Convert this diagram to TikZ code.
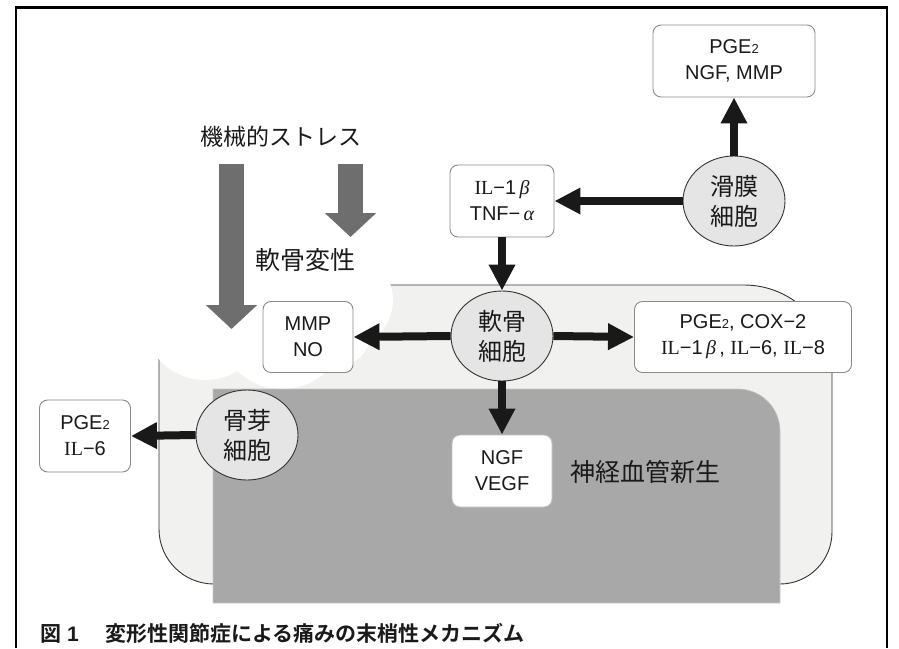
\documentclass[tikz,border=0pt]{standalone}
\usepackage{fontspec}
\setmainfont{Liberation Sans}
\newfontfamily\jp[BoldFont={Noto Sans CJK JP Bold}]{Noto Sans CJK JP}
\newfontfamily\serifIL{Liberation Serif}
\usetikzlibrary{shapes.geometric,arrows.meta}
\definecolor{lightfill}{HTML}{F1F1F0}
\definecolor{darkfill}{HTML}{A8A8A8}
\definecolor{cellfill}{HTML}{E5E5E5}
\definecolor{boxline}{HTML}{8A8A8A}
\definecolor{grayarrow}{HTML}{6E6E6E}
\definecolor{textcol}{HTML}{1A1A1A}
\newcommand{\sIL}{{\serifIL IL}}
\newcommand{\sub}[1]{{\fontsize{13}{13}\selectfont #1}}
\newcommand{\gbeta}{{\serifIL\itshape β}}
\newcommand{\galpha}{{\serifIL\itshape α}}
\tikzset{
  infobox/.style={draw=boxline, line width=0.9pt, rounded corners=8pt, fill=white,
    align=center, inner sep=0pt, text=textcol, font=\fontsize{20}{26}\selectfont},
  cell/.style={ellipse, draw=black!80, line width=0.9pt, fill=cellfill, inner sep=0pt,
    minimum width=102pt, minimum height=90pt, align=center, text=textcol,
    font=\jp\fontsize{24}{30}\selectfont},
  blackarrow/.style={line width=8pt, draw=black!90, -{Triangle[width=25pt,length=26pt]}},
  grayarr/.style={line width=25pt, draw=grayarrow, -{Triangle[width=50pt,length=24pt]}},
  jplabel/.style={inner sep=0pt, text=textcol},
  cloudpart/.style={fill=white, draw=none}
}
\begin{document}
\begin{tikzpicture}[x=1pt,y=1pt]
\useasboundingbox (0,0) rectangle (899,-648);
\fill[white] (0,0) rectangle (899,-648);
% frame
\draw[line width=2.5pt] (16,-648) -- (16,-7.5) -- (887,-7.5) -- (887,-648);
% cartilage region
\draw[fill=lightfill, draw=black!80, line width=0.9pt]
  (159,-285) -- (744,-285) arc[start angle=90, end angle=0, radius=88]
  -- (832,-532) arc[start angle=0, end angle=-90, radius=52]
  -- (214,-584) arc[start angle=270, end angle=180, radius=55] -- cycle;
% cloud
\fill[cloudpart] (205,-318) circle[radius=62];
\fill[cloudpart] (282,-325) circle[radius=64];
\fill[cloudpart] (345,-300) circle[radius=48];
\fill[cloudpart] (340,-335) circle[radius=30];
\fill[cloudpart] (240,-270) circle[radius=60];
% bone region
\draw[fill=darkfill, draw=black!22, line width=0.6pt]
  (213,-389) -- (738,-389) arc[start angle=90, end angle=0, radius=42]
  -- (780,-603) -- (213,-603) -- cycle;
% gray arrows
\coordinate (g1s) at (231.5,-164);
\coordinate (g1e) at (231.5,-329);
\coordinate (g2s) at (350.5,-164);
\coordinate (g2e) at (350.5,-237);
\draw[grayarr] (g1s) -- (g1e);
\draw[grayarr] (g2s) -- (g2e);
% labels
\node[jplabel, font=\jp\fontsize{23}{23}\selectfont] (stress) at (281,-137) {機械的ストレス};
\node[jplabel, font=\jp\fontsize{25}{25}\selectfont] (degen) at (305,-260) {軟骨変性};
\node[jplabel, font=\jp\fontsize{25}{25}\selectfont] (angio) at (645,-472) {神経血管新生};
% boxes
\node[infobox, minimum width=162pt, minimum height=72pt] (synprod) at (734,-61) {PGE\sub{2}\\NGF, MMP};
\node[infobox, minimum width=104pt, minimum height=72pt] (ilbox) at (502,-201) {\sIL−1\,\gbeta\\TNF−\,\galpha};
\node[infobox, minimum width=90pt, minimum height=71pt] (mmpno) at (308,-337) {MMP\\NO};
\node[infobox, minimum width=217pt, minimum height=71pt] (pgecox) at (743,-337) {PGE\sub{2}, COX−2\\\sIL−1\,\gbeta\,, \sIL−6, \sIL−8};
\node[infobox, draw=black!25, minimum width=100pt, minimum height=72pt] (ngfvegf) at (502,-471) {NGF\\VEGF};
\node[infobox, minimum width=91pt, minimum height=72pt] (pgeil6) at (85,-436) {PGE\sub{2}\\\sIL−6};
% cells
\node[cell] (synov) at (734,-201) {滑膜\\細胞};
\node[cell] (chondro) at (502,-336) {軟骨\\細胞};
\node[cell] (osteo) at (247,-435) {骨芽\\細胞};
% arrows
\draw[blackarrow] (synov.west) -- (ilbox.east);
\draw[blackarrow] (synov.north) -- (synprod.south);
\draw[blackarrow] (ilbox.south) -- (chondro.north);
\draw[blackarrow] (chondro.west) -- (mmpno.east);
\draw[blackarrow] (chondro.east) -- (pgecox.west);
\draw[blackarrow] (chondro.south) -- (ngfvegf.north);
\draw[blackarrow] (osteo.west) -- (pgeil6.east);
% caption
\node[jplabel, anchor=base west, font=\jp\bfseries\fontsize{21}{21}\selectfont] (capfig) at (40,-641) {図};
\node[jplabel, anchor=base west, font=\bfseries\fontsize{21}{21}\selectfont] (capnum) at (67,-641) {1};
\node[jplabel, anchor=base west, font=\jp\bfseries\fontsize{21}{21}\selectfont] (captxt) at (105,-641) {変形性関節症による痛みの末梢性メカニズム};
\end{tikzpicture}
\end{document}
